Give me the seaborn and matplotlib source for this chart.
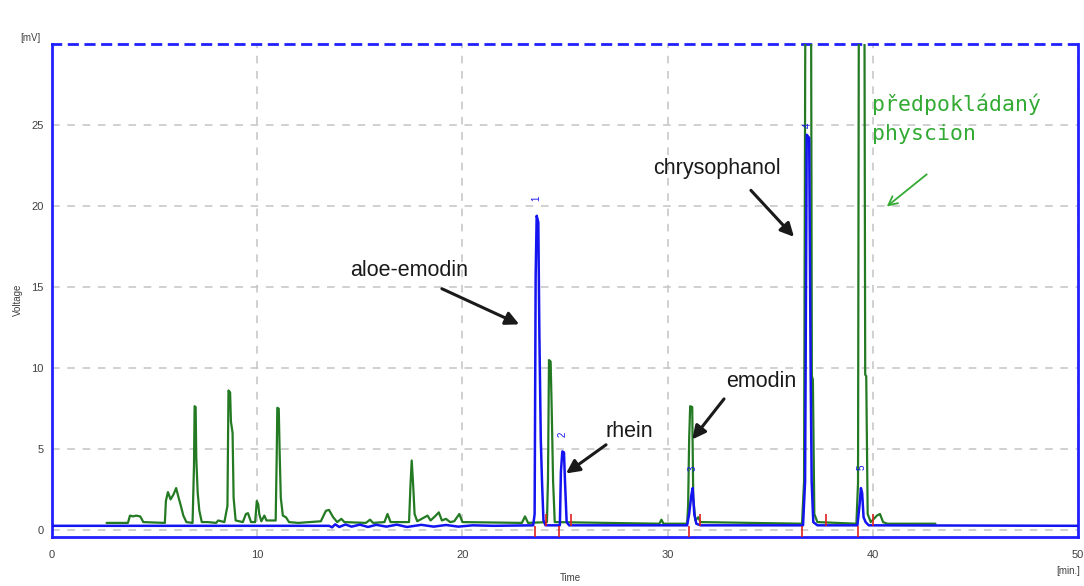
import matplotlib
matplotlib.use("Agg")
import matplotlib.pyplot as plt
import pandas as pd
import seaborn as sns

# ---- chromatogram traces (time in min, signal in mV) ----
green_t = [2.66, 3.70, 3.80, 3.95, 4.10, 4.30, 4.45, 5.50, 5.55, 5.65, 5.78, 5.92, 6.05, 6.15, 6.28,
           6.40, 6.55, 6.85, 6.92, 6.95, 7.00, 7.03, 7.10, 7.18, 7.30, 7.60, 8.00, 8.10, 8.40, 8.55,
           8.60, 8.68, 8.72, 8.80, 8.85, 8.95, 9.30, 9.45, 9.55, 9.70, 9.90, 9.98, 10.05, 10.10, 10.20,
           10.35, 10.45, 10.90, 10.95, 10.98, 11.05, 11.10, 11.15, 11.25, 11.40, 11.55, 12.00, 13.10,
           13.35, 13.50, 13.70, 13.90, 14.10, 14.25, 15.30, 15.50, 15.65, 16.20, 16.35, 16.50, 17.40,
           17.47, 17.53, 17.60, 17.67, 17.80, 18.30, 18.45, 18.70, 18.85, 19.00, 19.20, 19.40, 19.60,
           19.85, 20.00, 22.90, 23.05, 23.20, 24.12, 24.17, 24.22, 24.30, 24.35, 24.42, 24.50, 29.60,
           29.70, 29.80, 30.95, 31.00, 31.05, 31.10, 31.20, 31.25, 31.35, 31.50, 31.60, 36.55, 36.65,
           36.73, 36.98, 37.03, 37.08, 37.15, 37.30, 39.20, 39.28, 39.33, 39.58, 39.63, 39.68, 39.75,
           39.90, 40.20, 40.35, 40.50, 40.70, 43.05]
green_v = [0.45, 0.45, 0.90, 0.85, 0.90, 0.85, 0.50, 0.45, 1.80, 2.35, 1.90, 2.20, 2.60, 2.10, 1.50,
           0.90, 0.50, 0.45, 4.00, 7.65, 7.60, 4.50, 2.30, 1.20, 0.50, 0.50, 0.45, 0.60, 0.50, 1.50,
           8.62, 8.50, 6.70, 6.00, 2.00, 0.60, 0.50, 1.00, 1.05, 0.50, 0.50, 1.80, 1.60, 1.00, 0.55,
           0.90, 0.60, 0.60, 4.50, 7.55, 7.50, 4.50, 2.00, 0.90, 0.80, 0.50, 0.45, 0.55,
           1.20, 1.25, 0.80, 0.50, 0.70, 0.50, 0.45, 0.65, 0.45, 0.50, 1.00, 0.50, 0.50,
           2.80, 4.30, 2.80, 1.00, 0.55, 0.90, 0.60, 0.90, 1.10, 0.60, 0.70, 0.50, 0.55,
           1.00, 0.50, 0.45, 0.85, 0.45, 0.50, 3.10, 10.50, 10.40, 7.60, 3.00, 0.50, 0.40,
           0.65, 0.40, 0.40, 1.50, 5.60, 7.65, 7.60, 2.00, 0.60, 0.80, 0.50, 0.40, 3.00,
           40.0, 40.0, 9.50, 9.30, 1.00, 0.50, 0.40, 2.90, 40.0, 40.0, 9.60, 9.50, 1.00,
           0.50, 0.90, 1.00, 0.50, 0.40, 0.40]

blue_t = [0.00, 13.50, 13.65, 13.80, 14.00, 14.30, 14.60, 15.00, 15.40, 15.80, 16.30, 16.80, 17.30,
          18.00, 18.60, 19.20, 19.80, 20.50, 21.50, 23.45, 23.52, 23.57, 23.62, 23.70, 23.75, 23.82,
          23.88, 23.95, 24.05, 24.75, 24.80, 24.87, 24.95, 25.00, 25.08, 25.20, 30.95, 31.05, 31.15,
          31.22, 31.30, 31.40, 31.60, 36.60, 36.70, 36.78, 36.90, 36.97, 37.02, 37.10, 37.30, 39.25,
          39.35, 39.42, 39.48, 39.55, 39.65, 39.80, 50.00]
blue_v = [0.27, 0.27, 0.18, 0.36, 0.20, 0.35, 0.22, 0.34, 0.20, 0.33, 0.22, 0.34, 0.20,
          0.33, 0.22, 0.32, 0.22, 0.30, 0.27, 0.30, 1.00, 15.70, 19.40, 19.00, 12.20, 5.60,
          3.00, 0.60, 0.30, 0.30, 3.60, 4.86, 4.80, 3.00, 0.50, 0.30, 0.30, 1.00, 2.10,
          2.60, 1.00, 0.40, 0.30, 0.30, 3.00, 24.40, 24.20, 10.00, 3.00, 0.50, 0.30, 0.30,
          1.50, 2.60, 2.30, 0.80, 0.50, 0.30, 0.27]

# integration marks: peak starts (down) and peak ends (up)
mark_start_t = [23.55, 24.72, 31.05, 36.56, 39.27]
mark_end_t = [24.07, 25.29, 31.60, 37.73, 40.02]

# peak numbers above the blue trace
peak_no = ["1", "2", "3", "4", "5"]
peak_no_t = [23.62, 24.90, 31.22, 36.85, 39.45]
peak_no_v = [20.5, 5.9, 3.8, 25.0, 3.9]

x_ticks = [0, 10, 20, 30, 40, 50]
y_ticks = [0, 5, 10, 15, 20, 25]

GREEN = "#237a23"
BLUE = "#1414f0"
AXIS_BLUE = "#2020ff"

sns.set_theme(style="white")
plt.rcParams["font.family"] = ["Liberation Sans", "DejaVu Sans"]

fig = plt.figure(figsize=(10.84, 5.86), dpi=100)
ax = fig.add_axes([52 / 1084, 1 - 537 / 586, (1078 - 52) / 1084, (537 - 44) / 586])

green_df = pd.DataFrame({"Time": green_t, "Voltage": green_v})
blue_df = pd.DataFrame({"Time": blue_t, "Voltage": blue_v})

sns.lineplot(data=green_df, x="Time", y="Voltage", sort=False, estimator=None,
             color=GREEN, lw=1.6, ax=ax, zorder=3)
sns.lineplot(data=blue_df, x="Time", y="Voltage", sort=False, estimator=None,
             color=BLUE, lw=1.8, ax=ax, zorder=4)

ax.vlines(mark_start_t, -0.45, 0.27, color="#e02020", lw=1.2, zorder=5)
ax.vlines(mark_end_t, 0.27, 1.0, color="#e02020", lw=1.2, zorder=5)

for s, t, v in zip(peak_no, peak_no_t, peak_no_v):
    ax.text(t, v, s, color=BLUE, fontsize=7, rotation=90, ha="center", va="center", zorder=6)

ax.set_xlim(0, 50)
ax.set_ylim(-0.42, 30)
ax.set_xticks(x_ticks)
ax.set_yticks(y_ticks)
ax.set_xticklabels([str(v) for v in x_ticks])
ax.set_yticklabels([str(v) for v in y_ticks])
ax.tick_params(axis="both", direction="out", color=AXIS_BLUE, width=1.5,
               labelsize=8, labelcolor="#404040")
ax.tick_params(axis="x", length=6, pad=3)
ax.tick_params(axis="y", length=4, pad=2)
ax.set_xlabel("")
ax.set_ylabel("")

ax.grid(True, color="#c4c4c4", linestyle=(0, (5, 5)), lw=1.1)
ax.set_axisbelow(True)

for side in ["left", "right", "bottom"]:
    ax.spines[side].set_color(AXIS_BLUE)
    ax.spines[side].set_linewidth(2)
ax.spines["top"].set_color(AXIS_BLUE)
ax.spines["top"].set_linewidth(2)
ax.spines["top"].set_linestyle((0, (3, 3)))

# axis captions
fig.text(30 / 1084, 1 - 38 / 586, "[mV]", fontsize=7, color="#404040", ha="center", va="center")
fig.text(18 / 1084, 1 - 300 / 586, "Voltage", fontsize=7, color="#404040", rotation=90,
         ha="center", va="center")
fig.text(570 / 1084, 1 - 578 / 586, "Time", fontsize=7, color="#404040", ha="center", va="center")
fig.text(1068 / 1084, 1 - 571 / 586, "[min.]", fontsize=7, color="#404040", ha="center", va="center")

# compound labels with arrows
labels = [
    ("aloe-emodin", (17.42, 16.0), (19.0, 14.9), (22.77, 12.7)),
    ("rhein", (28.13, 6.1), (27.0, 5.27), (25.05, 3.5)),
    ("emodin", (34.55, 9.2), (32.75, 8.1), (31.2, 5.6)),
    ("chrysophanol", (32.4, 22.3), (34.06, 20.97), (36.16, 18.1)),
]
for text, pos, tail, tip in labels:
    ax.text(pos[0], pos[1], text, fontsize=15.5, color="#1a1a1a", ha="center", va="center", zorder=7)
    ax.annotate("", xy=tip, xytext=tail,
                arrowprops=dict(arrowstyle="-|>", color="#1a1a1a", lw=2.2, mutation_scale=20,
                                shrinkA=0, shrinkB=0), zorder=7)

ax.text(39.95, 26.3, "předpokládaný", fontsize=15.5, color="#33aa33",
        family=["DejaVu Sans Mono"], ha="left", va="center", zorder=7)
ax.text(39.95, 24.45, "physcion", fontsize=15.5, color="#33aa33",
        family=["DejaVu Sans Mono"], ha="left", va="center", zorder=7)
ax.annotate("", xy=(40.68, 19.97), xytext=(42.63, 21.96),
            arrowprops=dict(arrowstyle="->", color="#33aa33", lw=1.3, mutation_scale=16,
                            shrinkA=0, shrinkB=0), zorder=7)

fig.savefig("out.png", dpi=100, facecolor="white")
